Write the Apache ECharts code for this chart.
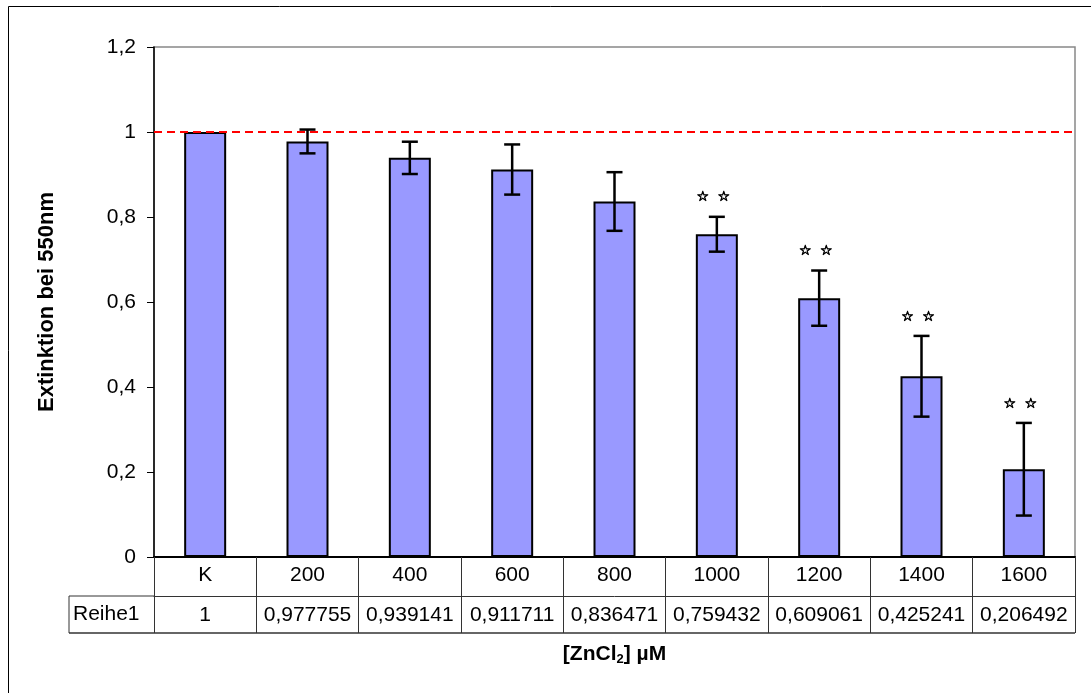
<!DOCTYPE html>
<html>
<head>
<meta charset="utf-8">
<style>
  html, body { margin: 0; padding: 0; background: #fff; }
  #chart { width: 1091px; height: 693px; }
</style>
<script src="https://cdn.jsdelivr.net/npm/echarts@6/dist/echarts.min.js"></script>
</head>
<body>
<div id="chart"></div>
<script>
// Zinc chloride concentration series (µM), K = control
var categories = ['K', '200', '400', '600', '800', '1000', '1200', '1400', '1600'];
// Mean extinction at 550 nm, normalised to control
var extinction = [1, 0.977755, 0.939141, 0.911711, 0.836471, 0.759432, 0.609061, 0.425241, 0.206492];
// Standard deviation for each concentration
var deviation = [0, 0.028, 0.038, 0.059, 0.069, 0.041, 0.065, 0.095, 0.109];
// Significance marks (** = p < 0.01)
var significance = [false, false, false, false, false, true, true, true, true];
var seriesName = 'Reihe1';
var yTicks = { min: 0, max: 1.2, interval: 0.2 };

var FONT = '"Liberation Sans", Arial, sans-serif';
var FS = 21;
var W = 1091, H = 693;
var G = { left: 154, right: 16, top: 47, bottom: 136 };
var rowH = 39;
var tableLeft = 69;
var tableLine = '#333';

function fmtComma(v) {
  return String(v).replace('.', ',');
}

var chart = echarts.init(document.getElementById('chart'), null, { renderer: 'canvas' });

var plotRight = W - G.right;
var zeroY = H - G.bottom;

function star(x, y) {
  return {
    type: 'text',
    style: {
      text: '☆', x: x, y: y,
      align: 'center', verticalAlign: 'middle',
      fontSize: 14, fontWeight: 'bold', fontFamily: '"DejaVu Sans", sans-serif',
      fill: '#000', stroke: '#000', lineWidth: 0.8
    }
  };
}

chart.setOption({
  animation: false,
  backgroundColor: '#fff',
  textStyle: { fontFamily: FONT },
  grid: {
    left: G.left, right: G.right, top: G.top, bottom: G.bottom,
    show: true, borderColor: '#888', borderWidth: 1.5, backgroundColor: 'transparent'
  },
  xAxis: [
    {
      type: 'category',
      data: categories,
      position: 'bottom',
      axisLine: { lineStyle: { color: '#000', width: 2 } },
      axisTick: { show: true, length: rowH, alignWithLabel: false, lineStyle: { color: tableLine, width: 1 } },
      axisLabel: { color: '#000', fontSize: FS, fontFamily: FONT, margin: 8, interval: 0 },
      splitLine: { show: false }
    },
    {
      type: 'category',
      data: categories,
      position: 'bottom',
      offset: rowH,
      axisLine: { lineStyle: { color: tableLine, width: 1 } },
      axisTick: { show: true, length: rowH - 2, alignWithLabel: false, lineStyle: { color: tableLine, width: 1 } },
      axisLabel: {
        color: '#000', fontSize: FS, fontFamily: FONT, margin: 9, interval: 0,
        formatter: function (v, i) { return fmtComma(extinction[i]); }
      },
      name: '[ZnCl{sub|2}] µM',
      nameLocation: 'middle',
      nameGap: 47,
      nameTextStyle: {
        color: '#000', fontSize: FS, fontWeight: 'bold', fontFamily: FONT,
        rich: {
          sub: { fontSize: 13, fontWeight: 'bold', fontFamily: FONT, padding: [10, 0, 0, 0], verticalAlign: 'bottom' }
        }
      },
      splitLine: { show: false }
    }
  ],
  yAxis: {
    type: 'value',
    min: yTicks.min, max: yTicks.max, interval: yTicks.interval,
    name: 'Extinktion bei 550nm',
    nameLocation: 'middle',
    nameGap: 96,
    nameTextStyle: { color: '#000', fontSize: 22, fontWeight: 'bold', fontFamily: FONT },
    axisLine: { show: true, lineStyle: { color: '#000', width: 1.5 } },
    axisTick: { show: true, length: 7, lineStyle: { color: '#000', width: 1 } },
    axisLabel: {
      color: '#000', fontSize: FS, fontFamily: FONT, margin: 18,
      formatter: function (v) { return fmtComma(Number(v.toFixed(1))); }
    },
    splitLine: { show: false }
  },
  series: [
    {
      name: seriesName,
      type: 'bar',
      xAxisIndex: 0,
      data: extinction,
      barWidth: 42,
      itemStyle: { color: '#9999ff', borderColor: '#000', borderWidth: 2 },
      markLine: {
        silent: true,
        symbol: 'none',
        label: { show: false },
        lineStyle: { color: '#ff0000', type: [8, 5], width: 2 },
        data: [{ yAxis: 1 }],
        z: 5
      },
      z: 2
    },
    {
      name: 'error',
      type: 'custom',
      xAxisIndex: 0,
      data: extinction.map(function (v, i) { return [i, v, deviation[i]]; }),
      z: 6,
      renderItem: function (params, api) {
        var i = api.value(0), v = api.value(1), e = api.value(2);
        var top = api.coord([i, v + e]);
        var bot = api.coord([i, v - e]);
        var cap = 8;
        var st = { stroke: '#000', lineWidth: 2.5 };
        var children = [];
        if (e > 0) {
          children.push(
            { type: 'line', shape: { x1: top[0], y1: top[1], x2: bot[0], y2: bot[1] }, style: st },
            { type: 'line', shape: { x1: top[0] - cap, y1: top[1], x2: top[0] + cap, y2: top[1] }, style: st },
            { type: 'line', shape: { x1: bot[0] - cap, y1: bot[1], x2: bot[0] + cap, y2: bot[1] }, style: st }
          );
        }
        if (significance[i]) {
          children.push(star(top[0] - 14, top[1] - 19), star(top[0] + 7, top[1] - 19));
        }
        return { type: 'group', children: children };
      }
    }
  ],
  graphic: [
    // outer frame
    { type: 'rect', shape: { x: 8.5, y: 6.5, width: W + 20, height: H + 20 }, style: { fill: 'none', stroke: '#000', lineWidth: 1 }, z: 0, silent: true },
    // series-name cell of the data table
    { type: 'line', shape: { x1: tableLeft, y1: zeroY + rowH, x2: G.left, y2: zeroY + rowH }, style: { stroke: tableLine, lineWidth: 1 }, silent: true },
    { type: 'line', shape: { x1: tableLeft, y1: zeroY + 2 * rowH - 2, x2: plotRight, y2: zeroY + 2 * rowH - 2 }, style: { stroke: tableLine, lineWidth: 1.5 }, silent: true },
    { type: 'line', shape: { x1: tableLeft, y1: zeroY + rowH, x2: tableLeft, y2: zeroY + 2 * rowH - 2 }, style: { stroke: tableLine, lineWidth: 1 }, silent: true },
    {
      type: 'text', silent: true,
      style: {
        text: seriesName, x: tableLeft + 4, y: zeroY + rowH * 1.5 - 1,
        align: 'left', verticalAlign: 'middle',
        fontSize: FS, fontFamily: FONT, fill: '#000'
      }
    }
  ]
});
</script>
</body>
</html>
